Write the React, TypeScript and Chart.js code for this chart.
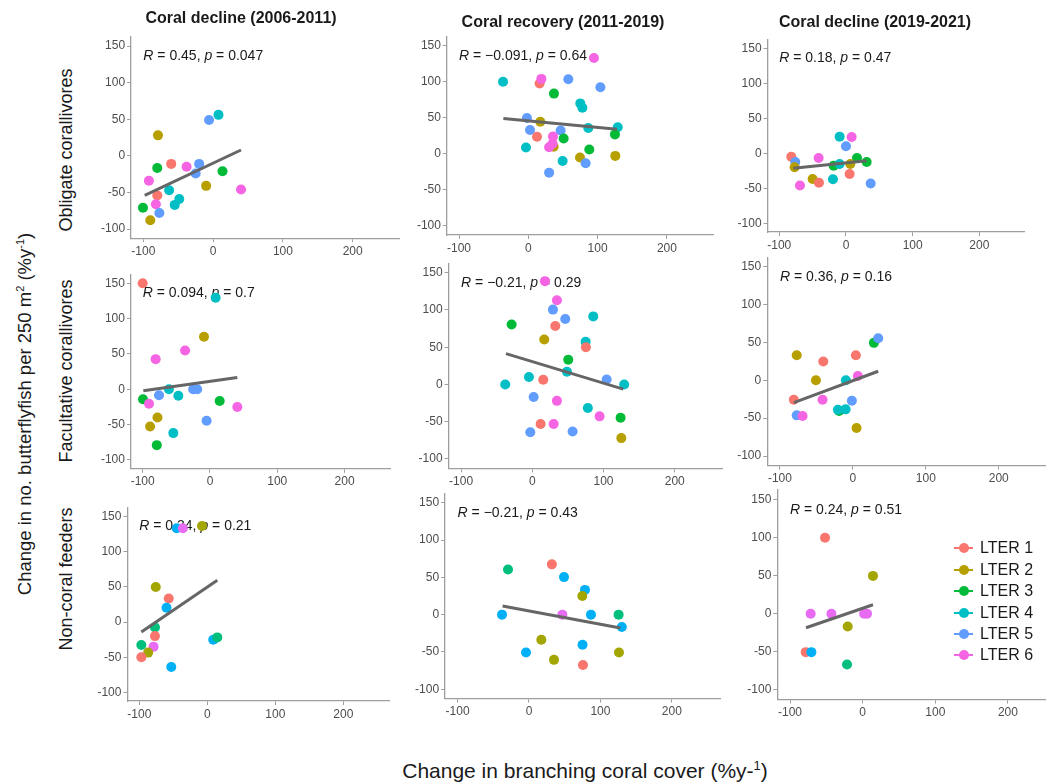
import React, { useEffect, useRef } from 'react';
import { Chart, registerables } from 'chart.js';
Chart.register(...registerables);

const FONT = '"Liberation Sans", Arial, Helvetica, sans-serif';
Chart.defaults.font.family = FONT;

// ---------- data ----------
const groupNames = ['LTER 1', 'LTER 2', 'LTER 3', 'LTER 4', 'LTER 5', 'LTER 6'];
const palette6 = ['#F8766D', '#B79F00', '#00BA38', '#00BFC4', '#619CFF', '#F564E3'];
// third row uses ggplot's 5-level hue palette (groups 1,2,3,5,6)
const palette5: Record<number, string> = { 1: '#F8766D', 2: '#A3A500', 3: '#00BF7D', 5: '#00B0F6', 6: '#E76BF3' };

const xTicks = [-100, 0, 100, 200];
const yTicks = [-100, -50, 0, 50, 100, 150];
const xLimits = [-117.5, 267.5];
const yLimits = [-112.5, 162.5];

const columnTitles = ['Coral decline (2006-2011)', 'Coral recovery (2011-2019)', 'Coral decline (2019-2021)'];
const rowTitles = ['Obligate corallivores', 'Facultative corallivores', 'Non-coral feeders'];

// [x, y, LTER group]
const obligate0611: number[][] = [
  [-5.8, 49, 5], [7.7, 56, 4], [-79, 28, 2], [-60, -11, 1], [-80, -16.5, 3], [-38, -15, 6],
  [-20, -11, 5], [-25, -24, 5], [13.5, -21, 3], [-92, -34, 6], [-10, -41, 2], [40, -46, 6],
  [-63, -47, 4], [-80, -54, 1], [-48.5, -59, 4], [-55, -67, 4], [-82, -66, 6], [-100.5, -71, 3],
  [-77, -78, 5], [-90, -88, 2],
];
const obligate1119: number[][] = [
  [94.7, 133, 6], [-36.5, 100, 4], [16.3, 97.5, 1], [18.8, 104, 6], [57.7, 103.6, 5], [104, 92.4, 5],
  [37, 83.6, 3], [75, 70, 4], [78, 64, 4], [-2, 49.7, 5], [17.3, 44.6, 2], [2.4, 33, 5],
  [46.6, 32.5, 5], [86.5, 35.8, 4], [129, 37, 4], [12.5, 23.7, 1], [35.6, 24, 6], [51, 21.4, 3],
  [125, 27, 3], [36.5, 9.8, 2], [35, 14, 6], [30, 9.3, 6], [-3.4, 8.8, 4], [88, 6, 3],
  [74.5, -5, 2], [125.5, -2.8, 2], [49.5, -9.8, 4], [82.7, -13, 5], [30, -26, 5],
];
const obligate1921: number[][] = [
  [-9.5, 23.8, 4], [8.5, 23.3, 6], [0, 10, 5], [-82, -4.8, 1], [-76, -12.4, 5], [-41, -6.7, 6],
  [16.5, -6.7, 3], [31, -12.4, 3], [-77, -20, 2], [-18.5, -17.6, 3], [-9.5, -15.2, 4], [6.5, -15.2, 2],
  [5.5, -29.5, 1], [-19.5, -37, 4], [-50, -36.7, 2], [-40.5, -42, 1], [-69, -46, 6], [37, -43, 5],
];
const facultative0611: number[][] = [
  [-100, 150, 1], [8.4, 129.6, 4], [-8.9, 74.5, 2], [-37, 55, 6], [-80.7, 42.7, 6], [-61, 0, 4],
  [-25, 0, 5], [-19, 0, 5], [-75.7, -8.5, 5], [-47, -9, 4], [-99.5, -14, 3], [-90.6, -20.4, 6],
  [14.4, -16.6, 3], [40.6, -25, 6], [-78, -40, 2], [-89, -52.7, 2], [-5, -44.6, 5], [-54.5, -62, 4],
  [-79, -79, 3],
];
const facultative1119: number[][] = [
  [17.8, 138.7, 6], [34.6, 113, 6], [29, 100.5, 5], [46.3, 87.8, 5], [85.6, 91.4, 4], [-29, 80.6, 3],
  [32.3, 78.4, 1], [16.8, 60.4, 2], [74.9, 57.2, 4], [75.3, 50, 1], [50.5, 33.3, 3], [48.7, 17, 4],
  [104.4, 6.8, 5], [129, 0, 4], [-4.7, 10, 4], [15.4, 6.3, 1], [-38, 0, 4], [1.9, -16.7, 5],
  [34.6, -22, 6], [78, -31.5, 4], [94.5, -42.8, 6], [124, -44.6, 3], [11.7, -53, 1], [30, -53, 6],
  [-2.8, -64, 5], [56.6, -63, 5], [125, -72, 2],
];
const facultative1921: number[][] = [
  [28.8, 49.4, 3], [34.7, 55.6, 5], [-77, 33, 2], [4.1, 33, 1], [-40.6, 24.7, 1], [-50.7, 0, 2],
  [-9.6, 0, 4], [6.8, 5.7, 6], [-81, -25.6, 1], [-41.6, -25.6, 6], [-1.4, -27, 5], [-19, -40.6, 3],
  [-20.5, -39, 4], [-10, -38.4, 4], [-77, -46.3, 5], [-69, -47.2, 6], [5, -63, 2],
];
const noncoral0611: number[][] = [
  [-45, 133.5, 5], [-36, 133.5, 6], [-7.8, 136.8, 2], [-75.8, 50, 2], [-56.7, 33.6, 1], [-60, 20.4, 5],
  [-77, -7.6, 3], [-77, -20, 1], [8.8, -25, 5], [14.7, -21.8, 3], [-97, -32.7, 3], [-79, -35, 6],
  [-87, -43.5, 2], [-97, -50, 1], [-53, -64, 5],
];
const noncoral1119: number[][] = [
  [32, 67.4, 1], [-29.4, 60.6, 3], [49, 50.3, 5], [78.4, 33.2, 5], [74.7, 25, 2], [-37.8, 0, 5],
  [46.7, 0, 6], [86.8, 0, 5], [125.5, 0, 3], [130, -16.6, 5], [17.3, -33.7, 2], [75, -40.4, 5],
  [-4.2, -50.7, 5], [35, -60.6, 2], [126, -50.7, 2], [75.6, -67.4, 1],
];
const noncoral1921: number[][] = [
  [-51.8, 99.6, 1], [14.2, 49.6, 2], [-71.6, 0, 6], [-43, 0, 6], [2, 0, 6], [6, 0, 6],
  [-20.6, -16.7, 2], [-78.4, -50.4, 1], [-70.6, -50.4, 5], [-21.5, -66.7, 3],
];

// regression line ends [x0, y0, x1, y1]
const fitObligate0611 = [-98, -54, 40, 8];
const fitObligate1119 = [-36, 49, 128, 34];
const fitObligate1921 = [-79, -21.4, 31, -10.5];
const fitFacultative0611 = [-99, -2, 40.6, 16.6];
const fitFacultative1119 = [-37, 41.4, 127.7, -6.3];
const fitFacultative1921 = [-81, -29.5, 34.7, 11.9];
const fitNoncoral0611 = [-97, -14, 14.7, 59.6];
const fitNoncoral1119 = [-37, 11.7, 128, -18];
const fitNoncoral1921 = [-78, -18.4, 14.2, 11.8];

// [R, p]
const statObligate = [['0.45', '0.047'], ['\u22120.091', '0.64'], ['0.18', '0.47']];
const statFacultative = [['0.094', '0.7'], ['\u22120.21', '0.29'], ['0.36', '0.16']];
const statNoncoral = [['0.34', '0.21'], ['\u22120.21', '0.43'], ['0.24', '0.51']];
const statPos = [-100, 136];

// ---------- layout (plot areas in page px: left, top, right, bottom) ----------
const BOXES = [
  [131.1, 36.9, 399.8, 238.2], [446.9, 36.7, 713.7, 235.0], [767.6, 39.5, 1024.4, 232.1],
  [130.9, 274.5, 390.0, 468.8], [448.6, 263.4, 722.8, 468.3], [767.2, 257.2, 1048.0, 465.5],
  [127.4, 507.9, 389.2, 701.1], [445.1, 493.4, 720.0, 698.6], [777.3, 489.8, 1057.0, 699.5],
];

const PANELS = [
  { pts: obligate0611, fit: fitObligate0611, stat: statObligate[0], row: 0 },
  { pts: obligate1119, fit: fitObligate1119, stat: statObligate[1], row: 0 },
  { pts: obligate1921, fit: fitObligate1921, stat: statObligate[2], row: 0 },
  { pts: facultative0611, fit: fitFacultative0611, stat: statFacultative[0], row: 1 },
  { pts: facultative1119, fit: fitFacultative1119, stat: statFacultative[1], row: 1 },
  { pts: facultative1921, fit: fitFacultative1921, stat: statFacultative[2], row: 1 },
  { pts: noncoral0611, fit: fitNoncoral0611, stat: statNoncoral[0], row: 2 },
  { pts: noncoral1119, fit: fitNoncoral1119, stat: statNoncoral[1], row: 2 },
  { pts: noncoral1921, fit: fitNoncoral1921, stat: statNoncoral[2], row: 2 },
];

const PAD_L = 40, PAD_T = 12, PAD_R = 14, PAD_B = 24;

const statPlugin = {
  id: 'stat',
  beforeDatasetsDraw(chart: any, _args: any, opts: any) {
    const { ctx, scales } = chart;
    const px = scales.x.getPixelForValue(opts.pos[0]);
    const py = scales.y.getPixelForValue(opts.pos[1]);
    ctx.save();
    ctx.textBaseline = 'middle';
    ctx.textAlign = 'left';
    ctx.fillStyle = '#1a1a1a';
    let cx = px;
    const parts: [string, boolean][] = [
      ['R', true], [' = ' + opts.r + ', ', false], ['p', true], [' = ' + opts.p, false],
    ];
    for (const [t, it] of parts) {
      ctx.font = `${it ? 'italic ' : ''}14px ${FONT}`;
      ctx.fillText(t, cx, py);
      cx += ctx.measureText(t).width;
    }
    ctx.restore();
  },
};

function Panel({ idx }: { idx: number }) {
  const ref = useRef<HTMLCanvasElement>(null);
  const panel = PANELS[idx];
  const [l, t, r, b] = BOXES[idx];
  const cl = Math.round(l - PAD_L);
  const ct = Math.round(t - PAD_T);
  const padL = l - cl;
  const padT = t - ct;
  const W = Math.round(r - cl + PAD_R);
  const H = Math.round(b - ct + PAD_B);
  const padR = W - (r - cl);
  const padB = H - (b - ct);

  useEffect(() => {
    const colorOf = (g: number) => (panel.row === 2 ? palette5[g] : palette6[g - 1]);
    const chart = new Chart(ref.current as HTMLCanvasElement, {
      type: 'scatter',
      data: {
        datasets: [
          {
            type: 'line',
            data: [
              { x: panel.fit[0], y: panel.fit[1] },
              { x: panel.fit[2], y: panel.fit[3] },
            ],
            borderColor: '#666666',
            borderWidth: 3,
            pointRadius: 0,
            showLine: true,
            fill: false,
          } as any,
          {
            data: panel.pts.map((p) => ({ x: p[0], y: p[1] })),
            pointRadius: 5,
            pointHoverRadius: 5,
            pointBorderWidth: 0,
            pointBackgroundColor: panel.pts.map((p) => colorOf(p[2])),
            backgroundColor: panel.pts.map((p) => colorOf(p[2])),
            borderWidth: 0,
          } as any,
        ],
      },
      options: {
        animation: false,
        responsive: false,
        events: [],
        layout: { padding: { top: padT, right: padR, bottom: 0, left: 0 } },
        plugins: {
          legend: { display: false },
          tooltip: { enabled: false },
          stat: { pos: statPos, r: panel.stat[0], p: panel.stat[1] },
        } as any,
        scales: {
          x: {
            type: 'linear',
            min: xLimits[0],
            max: xLimits[1],
            afterBuildTicks: (s: any) => { s.ticks = xTicks.map((v) => ({ value: v })); },
            afterFit: (s: any) => { s.height = padB; },
            ticks: { color: '#4d4d4d', font: { size: 12 }, padding: 2, autoSkip: false, maxRotation: 0 },
            grid: { display: true, drawOnChartArea: false, drawTicks: true, tickLength: 4, color: '#9e9e9e', lineWidth: 1 },
            border: { display: true, color: '#9e9e9e', width: 1.3 },
          },
          y: {
            type: 'linear',
            min: yLimits[0],
            max: yLimits[1],
            afterBuildTicks: (s: any) => { s.ticks = yTicks.map((v) => ({ value: v })); },
            afterFit: (s: any) => { s.width = padL; },
            ticks: { color: '#4d4d4d', font: { size: 12 }, padding: 2, autoSkip: false },
            grid: { display: true, drawOnChartArea: false, drawTicks: true, tickLength: 4, color: '#9e9e9e', lineWidth: 1 },
            border: { display: true, color: '#9e9e9e', width: 1.3 },
          },
        },
      },
      plugins: [statPlugin],
    });
    return () => chart.destroy();
  }, []);

  return (
    <canvas
      ref={ref}
      width={W}
      height={H}
      style={{ position: 'absolute', left: cl, top: ct, width: W, height: H }}
    />
  );
}

const textBase: React.CSSProperties = {
  position: 'absolute',
  whiteSpace: 'nowrap',
  fontFamily: FONT,
  color: '#1a1a1a',
  lineHeight: 1,
};

const colTitlePos = [[241, 18], [563, 22], [875, 22]];
const rowTitlePos = [[66, 150], [66, 371], [66, 579]];

export default function App() {
  return (
    <div style={{ position: 'absolute', left: 0, top: 0, width: 1046, height: 782, overflow: 'hidden', background: '#fff' }}>
      {PANELS.map((_, i) => <Panel key={i} idx={i} />)}
      {columnTitles.map((t, i) => (
        <div key={'c' + i} style={{ ...textBase, left: colTitlePos[i][0], top: colTitlePos[i][1], transform: 'translate(-50%, -50%)', fontWeight: 'bold', fontSize: 16 }}>{t}</div>
      ))}
      {rowTitles.map((t, i) => (
        <div key={'r' + i} style={{ ...textBase, left: rowTitlePos[i][0], top: rowTitlePos[i][1], transform: 'translate(-50%, -50%) rotate(-90deg)', fontSize: 18 }}>{t}</div>
      ))}
      <div style={{ ...textBase, left: 25, top: 414, transform: 'translate(-50%, -50%) rotate(-90deg)', fontSize: 18.5 }}>
        Change in no. butterflyfish per 250 m<sup style={{ fontSize: 11 }}>2</sup> (%y<sup style={{ fontSize: 11 }}>-1</sup>)
      </div>
      <div style={{ ...textBase, left: 585, top: 770, transform: 'translate(-50%, -50%)', fontSize: 21 }}>
        Change in branching coral cover (%y-<sup style={{ fontSize: 13 }}>1</sup>)
      </div>
      {groupNames.map((g, i) => (
        <div key={'l' + i} style={{ position: 'absolute', left: 954, top: 548.3 + i * 21.4 - 10, height: 20, width: 92 }}>
          <div style={{ position: 'absolute', left: 0, top: 9, width: 19, height: 2, background: palette6[i] }} />
          <div style={{ position: 'absolute', left: 4.5, top: 5, width: 10, height: 10, borderRadius: '50%', background: palette6[i] }} />
          <div style={{ ...textBase, left: 26, top: 10, transform: 'translateY(-50%)', fontSize: 16, color: '#1a1a1a' }}>{g}</div>
        </div>
      ))}
    </div>
  );
}
